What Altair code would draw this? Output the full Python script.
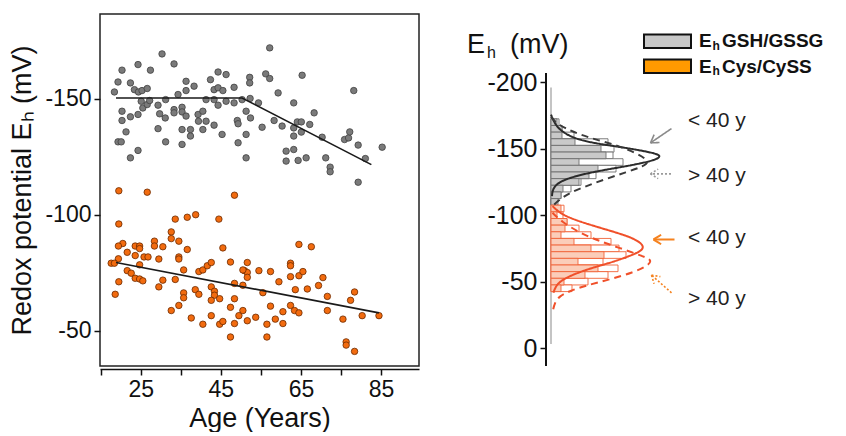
import math
import altair as alt
import pandas as pd

FONT = "Liberation Sans"

# ---------------- Left panel: scatter of redox potential vs age ----------------
gsh_age = [20.3, 19.3, 18.4, 22.4, 23.4, 24.3, 24.4, 25.3, 26.6, 27.4, 30.3, 33.3,
           20.3, 20.3, 22.4, 21.3, 19.3, 20.1, 22.4, 24.3, 24.3, 25.1, 25.5, 26.6,
           27.2, 29.3, 29.3, 29.7, 31.1, 31.2, 31.2, 33.3, 33.3, 34.3, 35.3, 35.3,
           35.3, 35.3, 36.3, 36.3, 36.3, 37.4, 37.4, 38.3, 39.3, 39.4, 40.5, 40.5,
           41.3, 41.3, 42.4, 43.3, 43.3, 43.3, 44.3, 44.3, 44.3, 45.5, 45.3, 46.3,
           46.3, 48.3, 48.3, 49.1, 49.3, 49.3, 50.3, 51.3, 51.3, 51.3, 52.2, 52.2,
           52.3, 52.4, 54.4, 55.3, 56.2, 57.2, 57.2, 58.3, 59.3, 60.3, 61.3, 61.3,
           63.2, 63.2, 63.2, 63.2, 64.1, 64.3, 65.1, 65.1, 65.3, 66.3, 67.2, 68.3,
           70.3, 71.2, 72.3, 72.3, 75.9, 76.9, 77.2, 78.2, 79.3, 79.3, 81.1, 85.3]
gsh_eh = [-162.4, -157.3, -153.0, -156.9, -154.0, -164.8, -153.0, -153.6, -154.5, -162.4, -169.4, -165.1,
          -144.7, -140.7, -142.3, -135.8, -131.5, -131.5, -124.6, -127.8, -143.3, -149.0, -146.1, -147.6,
          -149.3, -147.3, -137.2, -143.6, -141.8, -149.7, -131.5, -145.4, -144.0, -151.9, -146.4, -144.4,
          -136.8, -130.4, -157.6, -153.6, -142.6, -136.8, -134.0, -155.5, -143.3, -140.4, -144.7, -136.8,
          -140.4, -149.7, -158.3, -154.0, -138.7, -149.7, -161.6, -154.8, -147.3, -153.6, -134.7, -160.5,
          -149.0, -155.0, -148.3, -140.7, -139.3, -131.1, -149.7, -124.6, -134.7, -144.7, -159.3, -156.9,
          -150.2, -141.8, -148.3, -137.8, -160.8, -158.8, -172.0, -140.7, -152.6, -138.3, -127.5, -123.2,
          -148.3, -137.5, -134.0, -128.2, -140.1, -123.5, -140.1, -135.7, -160.2, -124.6, -139.0, -144.0,
          -133.5, -124.6, -120.6, -118.6, -132.5, -133.2, -135.8, -153.6, -130.1, -114.1, -124.3, -129.2]

cys_age = [19.5, 26.6, 48.4, 19.5, 33.6, 36.6, 38.7, 44.5, 32.6, 32.6, 28.4, 28.4,
           30.5, 34.5, 20.5, 19.4, 21.6, 23.6, 24.7, 24.7, 23.6, 25.8, 26.8, 19.4,
           17.6, 18.4, 24.7, 29.5, 34.5, 34.5, 36.6, 45.5, 47.4, 51.6, 50.9, 51.6,
           51.6, 50.5, 21.6, 22.6, 23.6, 24.7, 25.5, 30.5, 29.5, 33.6, 35.7, 39.5,
           40.5, 41.6, 42.6, 48.4, 50.5, 54.5, 57.4, 59.5, 62.4, 62.4, 62.4, 64.5,
           65.5, 64.5, 67.6, 70.5, 69.4, 66.6, 63.6, 19.5, 18.6, 35.7, 35.7, 38.6,
           39.5, 42.6, 43.4, 43.4, 44.7, 42.6, 48.4, 32.6, 34.5, 37.6, 40.5, 42.6,
           44.7, 45.5, 47.4, 47.4, 48.4, 49.5, 50.5, 51.6, 53.7, 55.5, 56.5, 56.5,
           57.4, 58.6, 60.5, 60.5, 62.4, 63.4, 64.5, 71.6, 71.6, 75.5, 77.4, 78.4,
           76.3, 76.3, 78.4, 80.3, 84.5]
cys_eh = [-110.4, -109.8, -108.5, -96.1, -98.2, -99.0, -100.1, -98.2, -92.7, -89.8, -88.7, -86.6,
          -86.3, -88.7, -87.7, -86.6, -83.9, -86.6, -86.6, -85.5, -82.5, -81.9, -81.9, -81.1,
          -79.2, -79.2, -78.5, -81.0, -81.9, -81.0, -85.1, -85.8, -79.7, -79.5, -76.0, -75.2,
          -73.1, -76.3, -76.0, -74.9, -72.7, -72.4, -71.6, -71.9, -69.0, -72.2, -76.3, -75.6,
          -76.3, -78.1, -79.5, -70.5, -69.7, -76.0, -75.6, -71.2, -79.2, -78.1, -73.4, -73.8,
          -75.6, -87.3, -86.3, -73.0, -69.6, -68.1, -67.8, -71.2, -65.8, -66.4, -64.3, -67.8,
          -65.8, -69.0, -67.1, -65.4, -63.9, -63.2, -63.9, -58.8, -61.0, -55.6, -52.9, -56.6,
          -52.9, -54.1, -60.2, -47.4, -53.2, -56.6, -58.8, -54.4, -55.9, -66.5, -52.9, -47.4,
          -60.7, -55.1, -58.3, -53.2, -61.0, -58.8, -57.8, -64.9, -58.8, -55.1, -63.2, -66.8,
          -45.3, -43.9, -41.2, -56.6, -56.6]

gsh_fit_age = [18.8, 50.3, 82.6]
gsh_fit_eh = [-150.4, -150.4, -121.7]
cys_fit_age = [18.8, 84.5]
cys_fit_eh = [-79.5, -57.8]

# ---------------- Right panel: distributions (5 mV bins) ----------------
gsh_bin = [-170, -165, -160, -155, -150, -145, -140, -135, -130, -125, -120, -115, -110]
gsh_hist_filled = [1.2, 2.2, 2.2, 4.8, 10.0, 11.0, 5.6, 9.4, 7.6, 5.6, 2.4, 2.0, 1.4]
gsh_hist_open = [1.6, 2.2, 4.6, 11.4, 12.6, 12.4, 14.4, 13.0, 9.0, 6.0, 4.0, 2.0, 0.0]
cys_bin = [-105, -100, -95, -90, -85, -80, -75, -70, -65, -60, -55, -50, -45]
cys_hist_filled = [2.0, 1.2, 3.2, 2.8, 2.0, 4.6, 8.0, 10.6, 5.4, 9.4, 6.8, 2.6, 2.0]
cys_hist_open = [2.6, 2.4, 3.2, 5.6, 8.0, 12.0, 13.6, 15.0, 10.4, 13.4, 11.4, 7.4, 4.2]

gsh_young_eh = [-175.7, -169.4, -164.4, -159.4, -156.1, -153.6, -151.4, -148.9, -146.4, -144.4,
                -141.8, -139.3, -136.8, -134.3, -131.3, -128.1, -124.3, -119.3, -114.3]
gsh_young_f = [0.0, 0.7, 1.7, 3.7, 6.3, 9.7, 13.7, 17.7, 21.0, 22.0,
               21.0, 18.3, 15.0, 11.0, 7.0, 3.7, 1.3, 0.3, 0.2]
gsh_old_eh = [-173.9, -169.4, -165.7, -160.7, -156.1, -151.9, -146.9, -140.6, -136.8, -132.3,
              -127.3, -121.8, -116.8, -111.8, -106.8]
gsh_old_f = [0.0, 1.0, 2.7, 5.7, 9.7, 13.7, 17.0, 19.8, 18.6, 15.0,
             11.0, 7.0, 3.7, 1.7, 0.3]
cys_young_eh = [-106.8, -101.8, -98.0, -93.7, -89.2, -85.5, -81.7, -76.7, -72.9, -69.2,
                -64.7, -61.2, -57.2, -52.9, -48.6, -44.1, -41.6]
cys_young_f = [0.3, 1.7, 3.7, 7.0, 11.0, 14.3, 17.0, 18.7, 18.0, 15.7,
               12.3, 9.0, 5.7, 3.0, 1.3, 0.7, 0.5]
cys_old_eh = [-101.8, -95.5, -86.7, -80.5, -75.4, -69.2, -66.2, -61.7, -56.7, -51.6,
              -47.1, -42.9, -39.1, -34.1, -26.6]
cys_old_f = [0.3, 2.0, 5.7, 9.7, 13.7, 18.3, 20.3, 19.3, 16.3, 11.7,
             7.0, 3.7, 1.7, 0.7, 0.3]

ann_text = ["< 40 y", "> 40 y", "< 40 y", "> 40 y"]
ann_eh = [-170.7, -129.3, -82.5, -36.6]

legend_labels = ["GSH/GSSG", "Cys/CySS"]
legend_fill = ["#c8c8c8", "#ff9a00"]

# ---------------- Left chart ----------------
xs = alt.Scale(domain=[14.8, 94.5], nice=False, zero=False)
ys = alt.Scale(domain=[-186.6, -34.9], nice=False, zero=False, reverse=True)
xax = alt.Axis(values=list(range(15, 86, 10)),
               labelExpr="indexof([25, 45, 65, 85], datum.value) >= 0 ? '' + datum.value : ''",
               title="Age (Years)", grid=False, offset=3, tickSize=6, tickWidth=1.5,
               domainWidth=1.5, labelFontSize=23, titleFontSize=27, labelPadding=3,
               titlePadding=4)
yax = alt.Axis(values=[-150, -100, -50], labelExpr="'' + datum.value",
               title="Redox potential Eₕ (mV)", grid=False,
               domain=False, tickSize=6, tickWidth=1.5, labelFontSize=23,
               titleFontSize=27, labelPadding=3, titlePadding=8)


def XL():
    return alt.X("age:Q", scale=xs, axis=xax)


def YL():
    return alt.Y("eh:Q", scale=ys, axis=yax)


gsh_df = pd.DataFrame({"age": gsh_age, "eh": gsh_eh})
cys_df = pd.DataFrame({"age": cys_age, "eh": cys_eh})
gfit_df = pd.DataFrame({"age": gsh_fit_age, "eh": gsh_fit_eh})
cfit_df = pd.DataFrame({"age": cys_fit_age, "eh": cys_fit_eh})

pts_g = alt.Chart(gsh_df).mark_point(filled=True, size=42, fill="#7a7a7a", stroke="#404040",
                                     strokeWidth=0.8, opacity=1).encode(x=XL(), y=YL())
pts_c = alt.Chart(cys_df).mark_point(filled=True, size=42, fill="#f26b0f", stroke="#6b2a00",
                                     strokeWidth=0.8, opacity=1).encode(x=XL(), y=YL())
fit_g = alt.Chart(gfit_df).mark_line(color="#1a1a1a", strokeWidth=1.6).encode(x=XL(), y=YL())
fit_c = alt.Chart(cfit_df).mark_line(color="#1a1a1a", strokeWidth=1.6).encode(x=XL(), y=YL())

left = alt.layer(pts_g, pts_c, fit_g, fit_c).properties(
    width=319, height=352,
    view=alt.ViewBackground(stroke="#222222", strokeWidth=1.5))

# ---------------- Right chart ----------------
PXU = 5.0      # px per frequency unit
PXV = 1.33     # px per mV
xr = alt.Scale(domain=[-1, 57], nice=False, zero=False)
yr = alt.Scale(domain=[-251.4, 13.5], nice=False, zero=False, reverse=True)
yrax = alt.Axis(values=[-200, -150, -100, -50, 0], labelExpr="'' + datum.value",
                title=None, grid=False, domain=False,
                tickSize=6, tickWidth=1.5, labelFontSize=25, labelPadding=3)


def XR(f="f"):
    return alt.X(f"{f}:Q", scale=xr, axis=None)


def YR(f="eh"):
    return alt.Y(f"{f}:Q", scale=yr, axis=yrax)


axis_line = alt.Chart(pd.DataFrame({"f": [-1], "eh": [-207], "eh2": [13.5]})).mark_rule(
    color="#111111", strokeWidth=2).encode(x=XR(), y=YR(), y2="eh2:Q")
base_line = alt.Chart(pd.DataFrame({"f": [0], "eh": [-196], "eh2": [-3]})).mark_rule(
    color="#b0b0b0", strokeWidth=1.5).encode(x=XR(), y=YR(), y2="eh2:Q")


def hist_df(bins, vals):
    return pd.DataFrame({"f": [0.0] * len(bins), "f2": vals,
                         "eh": [b - 2.5 for b in bins], "eh2": [b + 2.5 for b in bins]})


def hist_layer(bins, vals, fill, stroke):
    return alt.Chart(hist_df(bins, vals)).mark_rect(fill=fill, stroke=stroke, strokeWidth=0.9).encode(
        x=XR(), x2="f2:Q", y=YR(), y2="eh2:Q")


h_g_open = hist_layer(gsh_bin, gsh_hist_open, "#ffffff", "#6f6f6f")
h_g_fill = hist_layer(gsh_bin, gsh_hist_filled, "#c9c9c9", "#6f6f6f")
h_c_open = hist_layer(cys_bin, cys_hist_open, "#ffffff", "#f0643a")
h_c_fill = hist_layer(cys_bin, cys_hist_filled, "#fbcdb9", "#f0643a")


def curve(ehs, fs, color, dash):
    df = pd.DataFrame({"f": fs, "eh": ehs, "i": list(range(len(fs)))})
    m = alt.Chart(df).mark_line(color=color, strokeWidth=2, interpolate="basis",
                                strokeDash=dash)
    return m.encode(x=XR(), y=YR(), order="i:Q")


c_gy = curve(gsh_young_eh, gsh_young_f, "#2b2b2b", [1, 0])
c_go = curve(gsh_old_eh, gsh_old_f, "#3a3a3a", [7, 5])
c_cy = curve(cys_young_eh, cys_young_f, "#f0502a", [1, 0])
c_co = curve(cys_old_eh, cys_old_f, "#f0502a", [7, 5])

ann = alt.Chart(pd.DataFrame({"f": [27.4] * 4, "eh": ann_eh, "t": ann_text})).mark_text(
    align="left", baseline="middle", fontSize=21, color="#222222", font=FONT).encode(
    x=XR(), y=YR(), text="t:N")


# arrows: (start_f, start_eh, tip_f, tip_eh)
def arrow_segments(sf, se, tf, te):
    dx = (tf - sf) * PXU
    dy = (te - se) * PXV
    ang = math.atan2(dy, dx)
    segs = [(sf, se, tf, te)]
    for s in (1, -1):
        a = ang + math.pi + s * math.radians(32)
        segs.append((tf, te, tf + 9 * math.cos(a) / PXU, te + 9 * math.sin(a) / PXV))
    return segs


def arrow_layer(sf, se, tf, te, color, dash, width):
    rows = arrow_segments(sf, se, tf, te)
    df = pd.DataFrame(rows, columns=["f", "eh", "f2", "eh2"])
    return alt.Chart(df).mark_rule(color=color, strokeWidth=width, strokeDash=dash).encode(
        x=XR(), y=YR(), x2="f2:Q", y2="eh2:Q")


arr1 = arrow_layer(24.1, -165.2, 19.9, -154.4, "#8a8a8a", [1, 0], 1.6)
arr2 = arrow_layer(24.0, -131.1, 19.9, -131.1, "#9a9a9a", [2, 2], 1.6)
arr3 = arrow_layer(24.7, -81.7, 20.5, -81.7, "#f5821f", [1, 0], 2)
arr4 = arrow_layer(24.1, -41.6, 20.1, -54.9, "#f5821f", [2, 2], 1.6)

# legend
leg_box = alt.Chart(pd.DataFrame({"f": [18.6, 18.6], "f2": [28.0, 28.0],
                                  "eh": [-235.9, -217.1], "eh2": [-225.8, -207.0],
                                  "c": legend_fill})).mark_rect(
    stroke="#111111", strokeWidth=2).encode(
    x=XR(), x2="f2:Q", y=YR(), y2="eh2:Q", fill=alt.Fill("c:N", scale=None))
leg_e = alt.Chart(pd.DataFrame({"f": [29.6, 29.6], "eh": [-230.8, -211.7], "t": ["E", "E"]})).mark_text(
    align="left", baseline="middle", fontSize=19, fontWeight="bold", color="#111111", font=FONT).encode(
    x=XR(), y=YR(), text="t:N")
leg_h = alt.Chart(pd.DataFrame({"f": [32.3, 32.3], "eh": [-227.6, -208.5], "t": ["h", "h"]})).mark_text(
    align="left", baseline="middle", fontSize=12, fontWeight="bold", color="#111111", font=FONT).encode(
    x=XR(), y=YR(), text="t:N")
leg_t = alt.Chart(pd.DataFrame({"f": [34.2, 34.2], "eh": [-230.8, -211.7], "t": legend_labels})).mark_text(
    align="left", baseline="middle", fontSize=19, fontWeight="bold", color="#111111", font=FONT).encode(
    x=XR(), y=YR(), text="t:N")

# panel title  E_h (mV)
ttl = alt.Chart(pd.DataFrame({"f": [-16.8, -8.2], "eh": [-222.0, -222.0], "t": ["E", "(mV)"]})).mark_text(
    align="left", baseline="alphabetic", fontSize=27, color="#111111", font=FONT).encode(
    x=XR(), y=YR(), text="t:N")
ttl_h = alt.Chart(pd.DataFrame({"f": [-12.8], "eh": [-218.3], "t": ["h"]})).mark_text(
    align="left", baseline="alphabetic", fontSize=16, color="#111111", font=FONT).encode(
    x=XR(), y=YR(), text="t:N")

right = alt.layer(axis_line, base_line, h_g_open, h_g_fill, h_c_open, h_c_fill,
                  c_gy, c_go, c_cy, c_co, ann, arr1, arr2, arr3, arr4,
                  leg_box, leg_e, leg_h, leg_t, ttl, ttl_h).properties(
    width=290, height=352,
    view=alt.ViewBackground(stroke="transparent"))

chart = alt.hconcat(left, right, spacing=46).properties(
    padding={"left": 0, "top": 5, "right": 0, "bottom": 0}
).configure(font=FONT).configure_axis(
    labelFont=FONT, titleFont=FONT, labelColor="#111111", titleColor="#111111",
    tickColor="#111111", domainColor="#111111", titleFontWeight="normal"
)

chart.save("out.html", embed_options={"renderer": "svg", "actions": False})
